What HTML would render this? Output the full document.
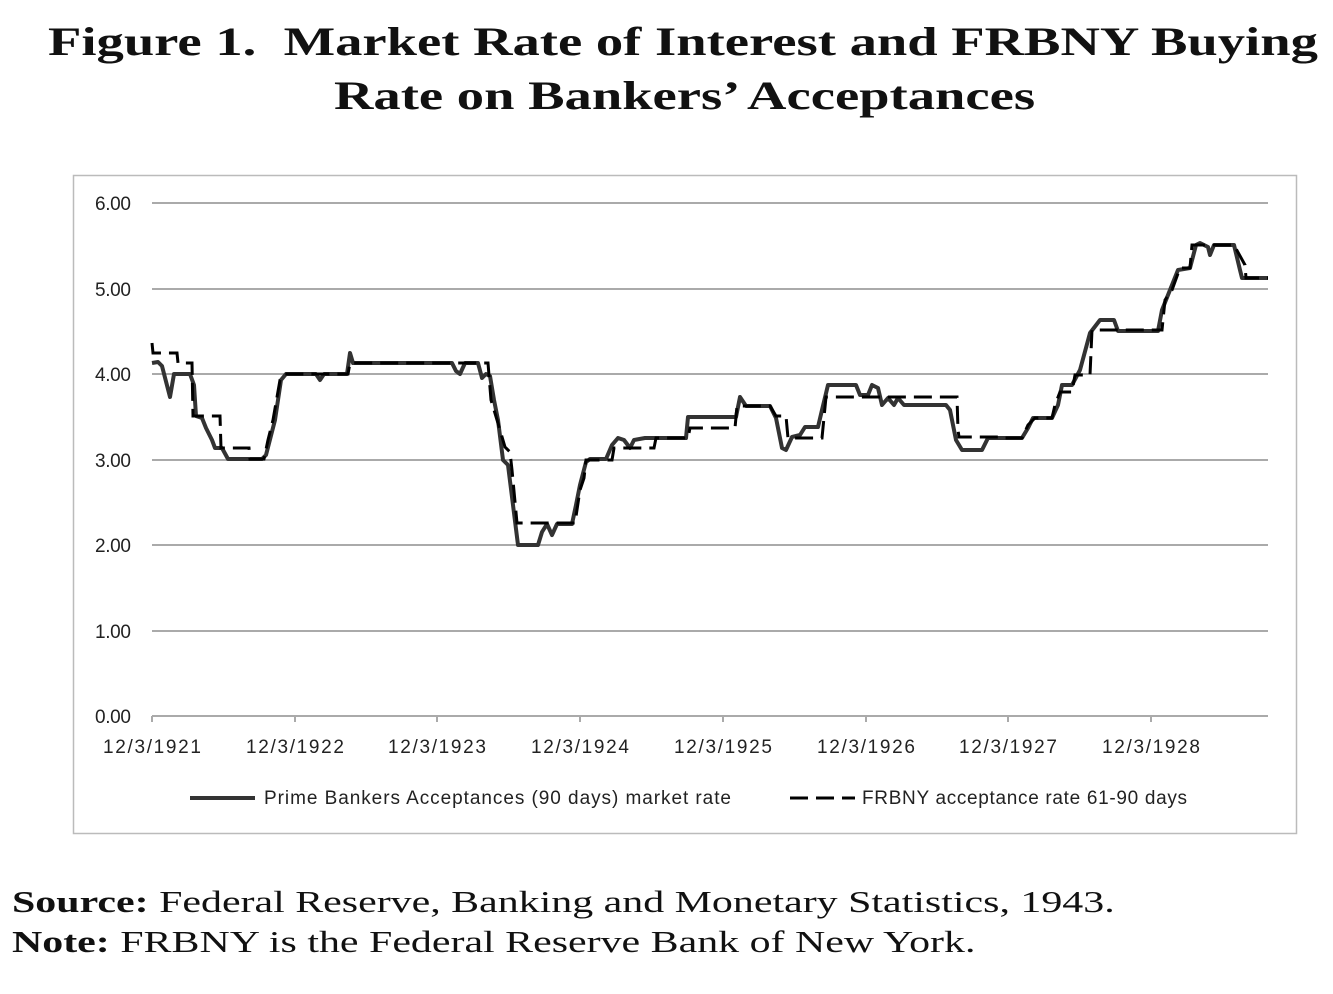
<!DOCTYPE html>
<html><head><style>
body{margin:0;background:#fff;width:1333px;height:994px;overflow:hidden;position:relative;font-family:"Liberation Serif",serif;}
.t{position:absolute;font-weight:bold;font-size:40px;color:#111;white-space:nowrap;transform-origin:0 0}
.s{position:absolute;left:12px;font-size:31px;color:#111;white-space:nowrap;transform-origin:0 0}
</style></head><body>
<div class="t" style="top:18px;left:48px;transform:scaleX(1.365)">Figure 1.&nbsp; Market Rate of Interest and FRBNY Buying</div>
<div class="t" style="top:72px;left:334px;transform:scaleX(1.365)">Rate on Bankers’ Acceptances</div>
<svg style="position:absolute;left:0;top:0" width="1333" height="994">
<rect x="73.5" y="175.5" width="1223" height="658" fill="none" stroke="#bbb" stroke-width="1.5"/>
<g stroke="#aaa" stroke-width="2">
<line x1="152" y1="203" x2="1268" y2="203"/><line x1="152" y1="289" x2="1268" y2="289"/>
<line x1="152" y1="374" x2="1268" y2="374"/><line x1="152" y1="460" x2="1268" y2="460"/>
<line x1="152" y1="545" x2="1268" y2="545"/><line x1="152" y1="631" x2="1268" y2="631"/>
<line x1="152" y1="716" x2="1268" y2="716"/>
<line x1="152" y1="716" x2="152" y2="722"/><line x1="295" y1="716" x2="295" y2="722"/><line x1="437" y1="716" x2="437" y2="722"/><line x1="580" y1="716" x2="580" y2="722"/><line x1="723" y1="716" x2="723" y2="722"/><line x1="866" y1="716" x2="866" y2="722"/><line x1="1008" y1="716" x2="1008" y2="722"/><line x1="1151" y1="716" x2="1151" y2="722"/>
</g>
<g font-family="Liberation Sans, sans-serif" font-size="19" fill="#222">
<text x="95" y="210" textLength="36">6.00</text><text x="95" y="296" textLength="36">5.00</text><text x="95" y="381" textLength="36">4.00</text><text x="95" y="467" textLength="36">3.00</text><text x="95" y="552" textLength="36">2.00</text><text x="95" y="638" textLength="36">1.00</text><text x="95" y="723" textLength="36">0.00</text>
</g>
<g font-family="Liberation Sans, sans-serif" font-size="19" fill="#222">
<text x="103" y="753" textLength="98">12/3/1921</text><text x="246" y="753" textLength="98">12/3/1922</text><text x="388" y="753" textLength="98">12/3/1923</text><text x="531" y="753" textLength="98">12/3/1924</text><text x="674" y="753" textLength="98">12/3/1925</text><text x="817" y="753" textLength="98">12/3/1926</text><text x="959" y="753" textLength="98">12/3/1927</text><text x="1102" y="753" textLength="98">12/3/1928</text>
</g>
<polyline fill="none" stroke="#333" stroke-width="4" stroke-linejoin="round" points="152,363 158,362 162,366 170,397 174,374 190,374 194,385 196,416 202,418 206,428 212,440 215,448 222,448 228,459 262,459 266,455 275,420 281,380 286,374 316,374 320,380 324,374 347,374 350,353 353,363 452,363 456,371 460,374 465,363 478,363 482,378 486,374 490,376 494,400 498,420 503,460 508,465 518,545 538,545 542,532 547,524 552,535 557,524 572,524 576,505 580,485 586,462 590,459 606,459 612,445 618,438 624,440 630,448 634,440 645,438 686,438 688,417 736,417 740,397 746,406 770,406 776,418 782,448 786,450 792,437 800,435 805,427 818,427 822,410 828,385 856,385 860,395 868,395 872,385 878,388 882,405 888,398 894,405 898,398 904,405 946,405 950,410 956,440 962,450 982,450 988,438 1022,438 1028,428 1033,418 1052,418 1058,405 1062,385 1072,385 1080,370 1090,333 1100,320 1114,320 1118,331 1158,331 1162,310 1170,290 1178,270 1190,268 1196,245 1200,243 1204,245 1208,247 1210,255 1214,245 1234,245 1240,270 1242,278 1268,278"/>
<polyline fill="none" stroke="#000" stroke-width="3" stroke-dasharray="18,8" points="152,343 153,353 177,353 178,363 192,363 193,416 220,416 221,448 249,448 250,459 264,459 268,440 273,420 280,380 285,374 348,374 350,363 488,363 491,400 500,430 505,447 510,452 512,470 517,523 575,523 580,490 584,478 586,460 612,460 614,448 654,448 656,438 688,438 690,428 735,428 737,406 770,406 776,416 786,416 788,438 822,438 826,397 957,397 958,430 959,437 1000,437 1002,438 1022,438 1028,425 1035,418 1052,418 1055,405 1060,392 1072,392 1075,375 1090,375 1092,330 1162,330 1165,300 1172,290 1180,268 1190,268 1192,245 1234,245 1245,265 1246,278 1268,278"/>
<line x1="190" y1="798" x2="255" y2="798" stroke="#333" stroke-width="4"/>
<line x1="790" y1="798" x2="855" y2="798" stroke="#000" stroke-width="3" stroke-dasharray="18,8"/>
<g font-family="Liberation Sans, sans-serif" font-size="19" fill="#222">
<text x="264" y="804" textLength="467">Prime Bankers Acceptances (90 days) market rate</text>
<text x="862" y="804" textLength="325">FRBNY acceptance rate 61-90 days</text>
</g>
</svg>
<div class="s" style="top:884px;transform:scaleX(1.352)"><b>Source:</b> Federal Reserve, Banking and Monetary Statistics, 1943.</div>
<div class="s" style="top:924px;transform:scaleX(1.352)"><b>Note:</b> FRBNY is the Federal Reserve Bank of New York.</div>
</body></html>
